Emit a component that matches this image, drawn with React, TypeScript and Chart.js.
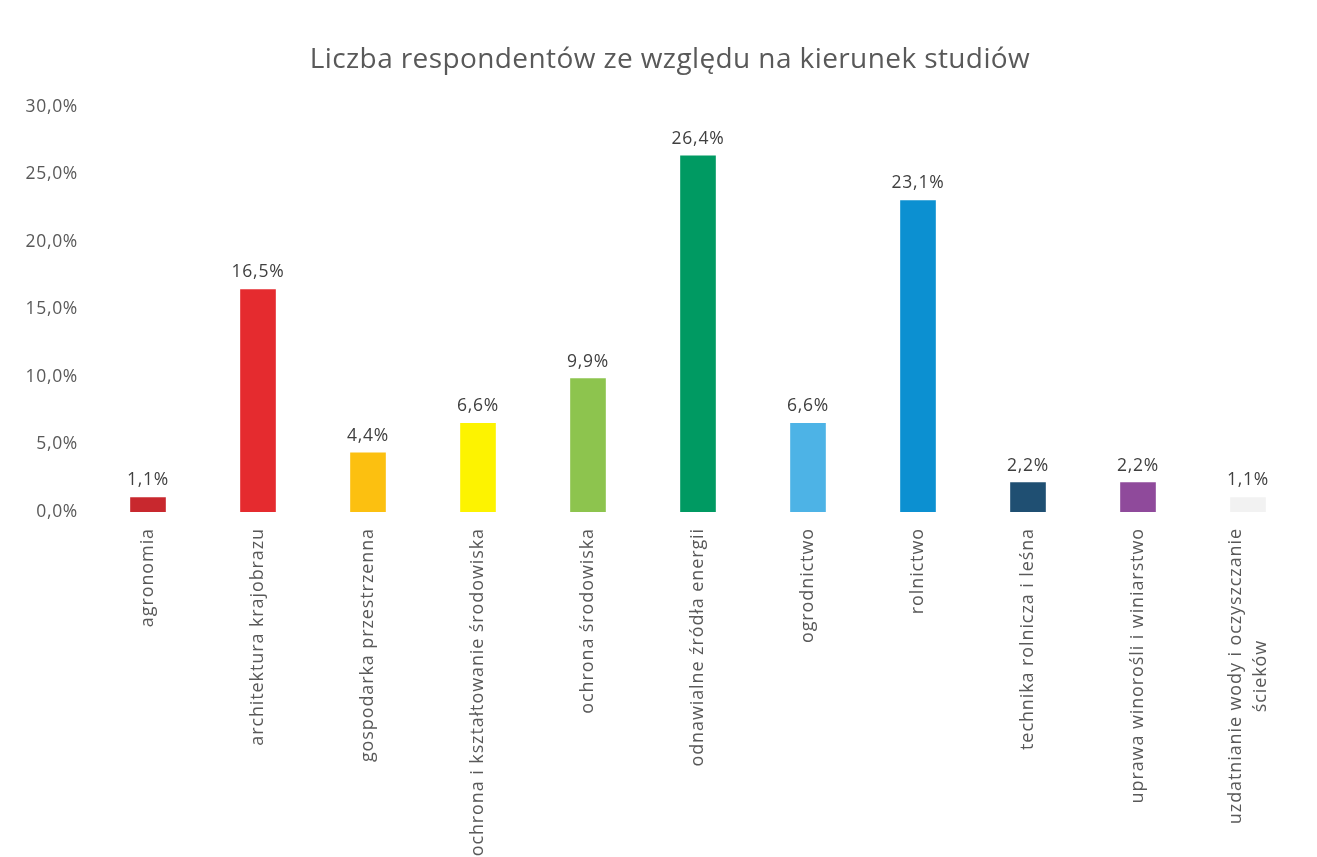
import React, { useEffect, useRef } from "react";
import { Chart, registerables } from "chart.js";

Chart.register(...registerables);

const TITLE = "Liczba respondentów ze względu na kierunek studiów";

const categories: string[][] = [
  ["agronomia"],
  ["architektura krajobrazu"],
  ["gospodarka przestrzenna"],
  ["ochrona i kształtowanie środowiska"],
  ["ochrona środowiska"],
  ["odnawialne źródła energii"],
  ["ogrodnictwo"],
  ["rolnictwo"],
  ["technika rolnicza i leśna"],
  ["uprawa winorośli i winiarstwo"],
  ["uzdatnianie wody i oczyszczanie", "ścieków"],
];

const values: number[] = [1.1, 16.5, 4.4, 6.6, 9.9, 26.4, 6.6, 23.1, 2.2, 2.2, 1.1];

const barColors: string[] = [
  "#c8282e",
  "#e52b2f",
  "#fcc010",
  "#fdf300",
  "#8dc44e",
  "#009a62",
  "#4db3e6",
  "#0c90d1",
  "#1f4f72",
  "#8f4a9b",
  "#f2f2f2",
];

const yTicks: number[] = [0, 5, 10, 15, 20, 25, 30];

const FONT = "'Open Sans', Lato, sans-serif";
const fmt = (v: number) => v.toFixed(1).replace(".", ",") + "%";

const overlayPlugin = {
  id: "overlay",
  beforeDraw(chart: any) {
    chart.ctx.letterSpacing = "0.7px";
  },
  afterDraw(chart: any) {
    const ctx = chart.ctx;
    const x = chart.scales.x;
    const area = chart.chartArea;
    ctx.save();
    // title
    ctx.fillStyle = "#595959";
    ctx.letterSpacing = "0.4px";
    ctx.font = `28px ${FONT}`;
    ctx.textAlign = "center";
    ctx.textBaseline = "middle";
    ctx.fillText(TITLE, 670, 60);

    // value labels
    ctx.letterSpacing = "0.8px";
    ctx.font = `17.5px ${FONT}`;
    ctx.fillStyle = "#404040";
    ctx.textBaseline = "bottom";
    const meta = chart.getDatasetMeta(0);
    meta.data.forEach((bar: any, i: number) => {
      ctx.fillText(fmt(values[i]), bar.x, bar.y - 8);
    });

    // category labels, rotated
    ctx.fillStyle = "#595959";
    ctx.letterSpacing = "0.9px";
    ctx.font = `18px ${FONT}`;
    const lineH = 25;
    categories.forEach((lines, i) => {
      const cx = x.getPixelForValue(i);
      const maxW = Math.max(...lines.map((l) => ctx.measureText(l).width));
      ctx.save();
      ctx.translate(cx, area.bottom + 16);
      ctx.rotate(-Math.PI / 2);
      ctx.textAlign = "center";
      ctx.textBaseline = "middle";
      lines.forEach((l, j) => {
        ctx.fillText(l, -maxW / 2, (j - (lines.length - 1) / 2) * lineH);
      });
      ctx.restore();
    });
    ctx.restore();
  },
};

export default function App() {
  const ref = useRef<HTMLCanvasElement | null>(null);
  useEffect(() => {
    if (!ref.current) return;
    const chart = new Chart(ref.current, {
      type: "bar",
      data: {
        labels: categories.map((c) => c.join(" ")),
        datasets: [
          {
            data: values,
            backgroundColor: barColors,
            borderWidth: 0,
            barPercentage: 0.9,
            categoryPercentage: 0.36,
          },
        ],
      },
      options: {
        animation: false,
        responsive: false,
        maintainAspectRatio: false,
        layout: { padding: { top: 107, bottom: 345, left: 0, right: 14 } },
        plugins: {
          legend: { display: false },
          title: { display: false },
          tooltip: { enabled: false },
        },
        scales: {
          x: {
            display: false,
          },
          y: {
            min: 0,
            max: 30,
            afterFit: (s: any) => {
              s.width = 93;
            },
            afterBuildTicks: (s: any) => {
              s.ticks = yTicks.map((v) => ({ value: v }));
            },
            grid: { display: false },
            border: { display: false },
            ticks: {
              padding: 7,
              color: "#595959",
              font: { family: FONT, size: 17.5 },
              callback: (v: any) => fmt(Number(v)),
            },
          },
        },
      },
      plugins: [overlayPlugin],
    });
    return () => chart.destroy();
  }, []);
  return (
    <div style={{ position: "absolute", left: 0, top: 0, width: 1317, height: 857, background: "#fff" }}>
      <canvas ref={ref} width={1317} height={857} style={{ width: 1317, height: 857 }} />
    </div>
  );
}
